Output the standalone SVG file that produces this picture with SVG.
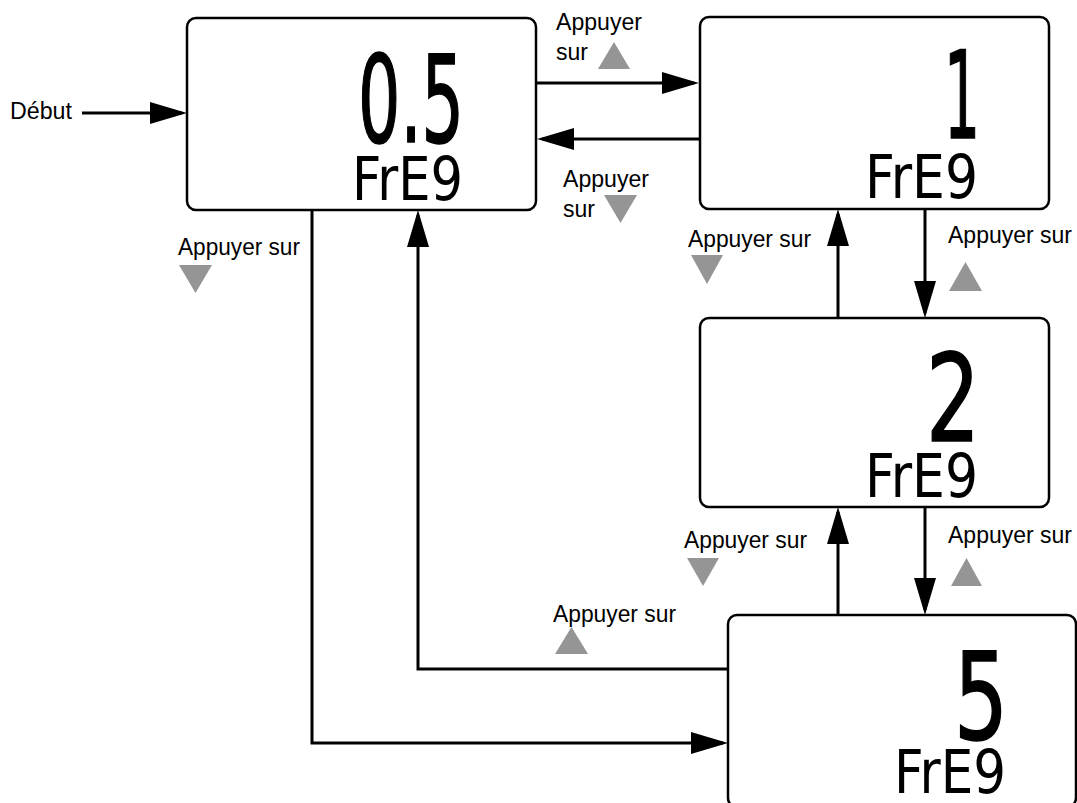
<svg xmlns="http://www.w3.org/2000/svg" width="1077" height="803" viewBox="0 0 1077 803">
<style>
.box{fill:#fff;stroke:#000;stroke-width:2.5}
.conn{fill:none;stroke:#000;stroke-width:3;marker-end:url(#ah)}
.lbl{font-family:"Liberation Sans",Arial,sans-serif;font-size:23px;fill:#000}
.seg{font-family:"DejaVu Sans Condensed","DejaVu Sans",sans-serif;fill:#000}
.big{font-size:121px;stroke:#000;stroke-width:1.6}
.small{font-size:60px}
.tri{fill:#959595;filter:url(#soft)}
</style>
<defs>
<marker id="ah" markerUnits="userSpaceOnUse" markerWidth="38" markerHeight="24" refX="32" refY="11" orient="auto">
<path d="M0,0 L37,11 L0,22 z" fill="#000"/>
</marker>
<filter id="soft" x="-20%" y="-20%" width="140%" height="140%">
<feGaussianBlur stdDeviation="0.7"/>
</filter>
</defs>
<rect width="1077" height="803" fill="#fff"/>

<g id="connectors">
<path class="conn" d="M82,113 H182"/>
<path class="conn" d="M537,83 H694"/>
<path class="conn" d="M700,139 H542"/>
<path class="conn" d="M312,210 V743 H723"/>
<path class="conn" d="M728,669 H418 V215"/>
<path class="conn" d="M838,318 V214"/>
<path class="conn" d="M925,209 V313"/>
<path class="conn" d="M838,615 V512"/>
<path class="conn" d="M925,507 V610"/>
</g>

<g id="start">
<text class="lbl" x="10" y="119" textLength="62" lengthAdjust="spacingAndGlyphs">Début</text>
</g>

<g id="node-05">
<rect class="box" x="187" y="18" width="349" height="192" rx="9"/>
<text class="seg big" x="358" y="142" textLength="106" lengthAdjust="spacingAndGlyphs">0.5</text>
<text class="seg small" x="352" y="200" textLength="111" lengthAdjust="spacingAndGlyphs">FrE9</text>
</g>

<g id="node-1">
<rect class="box" x="700" y="17" width="349" height="192" rx="9"/>
<text class="seg big" x="944" y="138" textLength="36" lengthAdjust="spacingAndGlyphs">1</text>
<text class="seg small" x="865" y="198" textLength="113" lengthAdjust="spacingAndGlyphs">FrE9</text>
</g>

<g id="node-2">
<rect class="box" x="700" y="318" width="349" height="189" rx="9"/>
<text class="seg big" x="926" y="441" textLength="54" lengthAdjust="spacingAndGlyphs">2</text>
<text class="seg small" x="865" y="497" textLength="113" lengthAdjust="spacingAndGlyphs">FrE9</text>
</g>

<g id="node-5">
<rect class="box" x="728" y="615" width="348" height="192" rx="9"/>
<text class="seg big" x="954" y="739" textLength="54" lengthAdjust="spacingAndGlyphs">5</text>
<text class="seg small" x="894" y="793" textLength="112" lengthAdjust="spacingAndGlyphs">FrE9</text>
</g>

<g id="label-up-1">
<text class="lbl" x="556" y="30" textLength="86" lengthAdjust="spacingAndGlyphs">Appuyer</text>
<text class="lbl" x="556" y="60">sur</text>
<polygon class="tri" points="614,42 630,69 598,69"/>
</g>
<g id="label-down-1">
<text class="lbl" x="563" y="187" textLength="86" lengthAdjust="spacingAndGlyphs">Appuyer</text>
<text class="lbl" x="563" y="217">sur</text>
<polygon class="tri" points="604,195 637,195 620.5,223"/>
</g>
<g id="label-down-left">
<text class="lbl" x="178" y="255" textLength="122" lengthAdjust="spacingAndGlyphs">Appuyer sur</text>
<polygon class="tri" points="179,265 212,265 195.5,293"/>
</g>
<g id="label-up-left">
<text class="lbl" x="553" y="622" textLength="123" lengthAdjust="spacingAndGlyphs">Appuyer sur</text>
<polygon class="tri" points="571.5,627 588,654 555,654"/>
</g>
<g id="label-down-2">
<text class="lbl" x="688" y="247" textLength="123" lengthAdjust="spacingAndGlyphs">Appuyer sur</text>
<polygon class="tri" points="691,255 723,255 707,284"/>
</g>
<g id="label-up-2">
<text class="lbl" x="948" y="243" textLength="124" lengthAdjust="spacingAndGlyphs">Appuyer sur</text>
<polygon class="tri" points="965.5,262 982,291 949,291"/>
</g>
<g id="label-down-3">
<text class="lbl" x="684" y="548" textLength="123" lengthAdjust="spacingAndGlyphs">Appuyer sur</text>
<polygon class="tri" points="687,558 719,558 703,586"/>
</g>
<g id="label-up-3">
<text class="lbl" x="948" y="543" textLength="124" lengthAdjust="spacingAndGlyphs">Appuyer sur</text>
<polygon class="tri" points="966.5,558 982,586 951,586"/>
</g>
</svg>
